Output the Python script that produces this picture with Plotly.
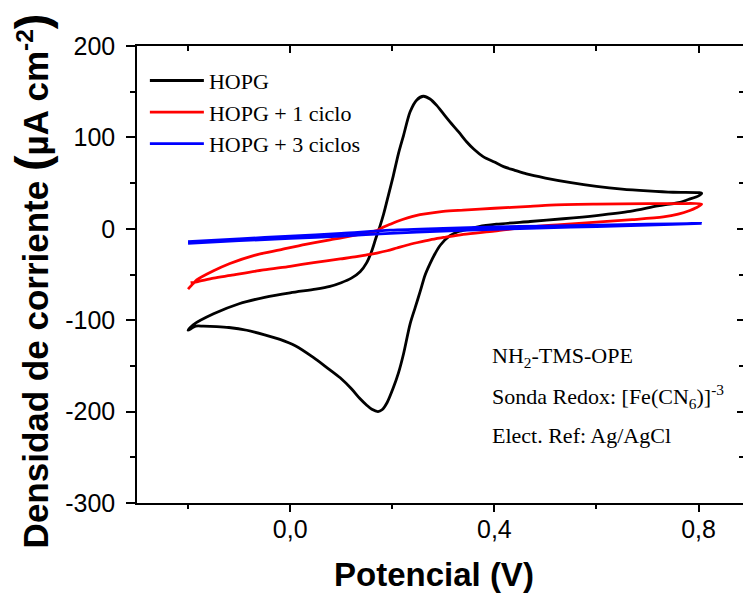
import plotly.graph_objects as go

# ---------------- data ----------------
hopg_E = [-0.200, -0.190, -0.150, -0.100, -0.050, 0.000, 0.050, 0.078, 0.100, 0.120,
          0.137, 0.150, 0.160, 0.168, 0.176, 0.183, 0.193, 0.202, 0.212, 0.222,
          0.235, 0.248, 0.261, 0.274, 0.287, 0.300, 0.313, 0.330, 0.346, 0.360,
          0.378, 0.400, 0.418, 0.440, 0.463, 0.500, 0.550, 0.600, 0.650, 0.700,
          0.750, 0.800, 0.806,
          0.800, 0.780, 0.764, 0.720, 0.666, 0.600, 0.535, 0.470, 0.404, 0.370,
          0.352, 0.330, 0.313, 0.294, 0.284, 0.274, 0.264, 0.255, 0.245, 0.235,
          0.222, 0.212, 0.202, 0.190, 0.180, 0.172, 0.160, 0.150, 0.137, 0.120,
          0.098, 0.070, 0.046, 0.010, -0.020, -0.050, -0.085, -0.120, -0.144, -0.170,
          -0.185, -0.200]
hopg_I = [-111, -105, -93, -82, -75, -70, -66, -63, -59, -54,
          -47, -37, -24, -10, 3, 16, 38, 58, 82, 102,
          128, 141, 145, 142, 135, 126, 117, 106, 95, 87,
          79, 73, 68, 64, 60, 55.5, 50.5, 46.5, 43.5, 41.5,
          40, 39.5, 39,
          36, 32, 29, 25, 19, 14.5, 11, 8, 5, 2.5,
          0, -3, -7.5, -18, -27, -38, -51, -68, -86, -104,
          -137, -158, -174, -190, -198, -200, -197.5, -193, -186, -175,
          -163, -151, -141, -128, -121, -116, -111, -108, -107, -106.5,
          -106.5, -111]

ciclo1_E = [-0.200, -0.190, -0.183, -0.150, -0.118, -0.070, -0.020, 0.030, 0.078, 0.100,
            0.144, 0.170, 0.183, 0.196, 0.209, 0.230, 0.248, 0.261, 0.300, 0.339,
            0.400, 0.470, 0.509, 0.600, 0.700, 0.760, 0.806,
            0.795, 0.783, 0.760, 0.731, 0.670, 0.600, 0.530, 0.470, 0.400,
            0.339, 0.300, 0.274, 0.250, 0.228, 0.209, 0.190, 0.170, 0.150, 0.130,
            0.098, 0.046, 0.000, -0.052, -0.117, -0.150, -0.183, -0.195]
ciclo1_I = [-66, -60, -56, -46, -38, -29, -23, -17, -12, -10,
            -5, -2, 2, 5, 8, 12, 14.6, 16, 19, 20.5,
            22.5, 24.5, 26, 27, 27.5, 27.5, 27,
            23, 20, 16, 13, 10, 7.3, 4.5, 2, -2.5,
            -6, -9.5, -12, -15, -18, -21, -24, -26.5, -28.5, -30.5,
            -33, -37, -41, -45, -51, -54, -58, -59]

ciclo3_E = [-0.200, -0.100, 0.000, 0.100, 0.196, 0.300, 0.400, 0.500, 0.600, 0.700, 0.806,
            0.700, 0.600, 0.500, 0.400, 0.300, 0.196, 0.100, 0.000, -0.100, -0.200]
ciclo3_I = [-14, -11, -8, -5, -1.5, 0.5, 2, 3, 4, 5, 6,
            4, 2.5, 1, -0.5, -2.5, -5, -8, -10.5, -13, -16]

series_names = ["HOPG", "HOPG + 1 ciclo", "HOPG + 3 ciclos"]
series_colors = ["#000000", "#ff0000", "#0000ff"]

y_tickvals = [-300, -200, -100, 0, 100, 200]
y_ticktext = ["-300", "-200", "-100", "0", "100", "200"]
y_minor = [-250, -150, -50, 50, 150]
x_tickvals = [0.0, 0.4, 0.8]
x_ticktext = ["0,0", "0,4", "0,8"]
x_minor = [-0.2, 0.2, 0.6]

x_title = "Potencial (V)"
y_title = ("Densidad de corriente <span style='font-size:47px'>(</span>"
           "µA cm<sup>-2</sup><span style='font-size:47px'>)</span>")

notes = ["NH<sub>2</sub>-TMS-OPE",
         "Sonda Redox: [Fe(CN<sub>6</sub>)]<sup>-3</sup>",
         "Elect. Ref: Ag/AgCl"]

# ---------------- figure ----------------
SANS = "Liberation Sans, Arial, sans-serif"
SERIF = "Liberation Serif, Times New Roman, serif"
XR = [-0.3, 0.887]
YR = [-300, 200]

fig = go.Figure()
for E, I, name, col in zip([hopg_E, ciclo1_E, ciclo3_E], [hopg_I, ciclo1_I, ciclo3_I],
                           series_names, series_colors):
    fig.add_trace(go.Scatter(x=E, y=I, mode="lines", name=name,
                             line=dict(color=col, width=2.8, shape="spline", smoothing=0.8)))

# invisible traces to create the extra axes (top / right mirrors, bottom tick marks)
fig.add_trace(go.Scatter(x=[None], y=[None], xaxis="x2", yaxis="y2",
                         showlegend=False, hoverinfo="skip"))
fig.add_trace(go.Scatter(x=[None], y=[None], xaxis="x3", yaxis="y",
                         showlegend=False, hoverinfo="skip"))

axis_common = dict(showgrid=False, zeroline=False, linecolor="black", linewidth=1.5,
                   tickcolor="black", tickwidth=1.5, automargin=False)

fig.update_layout(
    width=743, height=595,
    margin=dict(l=137, r=0, t=46, b=92),
    plot_bgcolor="white", paper_bgcolor="white",
    showlegend=True,
    legend=dict(x=0.013, y=0.970, xanchor="left", yanchor="top",
                bgcolor="rgba(0,0,0,0)", borderwidth=0,
                font=dict(family=SERIF, size=22, color="black"),
                itemwidth=54, tracegroupgap=0),
    xaxis=dict(range=XR, showline=True, ticks="outside", ticklen=3,
               tickmode="array", tickvals=x_tickvals, ticktext=x_ticktext,
               tickfont=dict(family=SANS, size=25, color="black"),
               ticklabelstandoff=0,
               **axis_common),
    xaxis3=dict(range=XR, overlaying="x", side="bottom", anchor="y", showline=False,
                ticks="outside", ticklen=8, showticklabels=False,
                tickmode="array", tickvals=x_tickvals,
                minor=dict(tickmode="array", tickvals=x_minor, ticks="outside",
                           ticklen=5, tickcolor="black", tickwidth=1.5),
                showgrid=False, zeroline=False, tickcolor="black", tickwidth=1.5,
                automargin=False),
    yaxis=dict(range=YR, showline=True, ticks="outside", ticklen=9,
               tickmode="array", tickvals=y_tickvals, ticktext=y_ticktext,
               tickfont=dict(family=SANS, size=25, color="black"),
               ticklabelstandoff=6,
               minor=dict(tickmode="array", tickvals=y_minor,
                          ticks="outside", ticklen=5, tickcolor="black", tickwidth=1.5),
               **axis_common),
    xaxis2=dict(range=XR, overlaying="x", side="top", anchor="y", showline=True,
                ticks="inside", ticklen=7, showticklabels=False,
                tickmode="array", tickvals=x_tickvals,
                minor=dict(tickmode="array", tickvals=x_minor, ticks="inside",
                           ticklen=5, tickcolor="black", tickwidth=1.5),
                **axis_common),
    yaxis2=dict(range=YR, overlaying="y", side="right", anchor="x", showline=False,
                ticks="inside", ticklen=6, showticklabels=False,
                tickmode="array", tickvals=y_tickvals,
                minor=dict(tickmode="array", tickvals=y_minor,
                           ticks="inside", ticklen=4, tickcolor="black", tickwidth=1.5),
                showgrid=False, zeroline=False, tickcolor="black", tickwidth=1.5,
                automargin=False),
)

# axis titles
fig.add_annotation(text=x_title, xref="paper", yref="paper", x=0.49, y=-0.1575,
                   xanchor="center", yanchor="middle", showarrow=False,
                   font=dict(family=SANS, size=33, color="black", weight="bold"))
fig.add_annotation(text=y_title, xref="paper", yref="paper", x=-0.175, y=0.487,
                   xanchor="center", yanchor="middle", showarrow=False, textangle=-90,
                   font=dict(family=SANS, size=35, color="black", weight="bold"))

note_y = [0.3195, 0.232, 0.148]
for txt, yy in zip(notes, note_y):
    fig.add_annotation(text=txt, xref="paper", yref="paper", x=0.5825, y=yy,
                       xanchor="left", yanchor="middle", showarrow=False,
                       font=dict(family=SERIF, size=22, color="black"))

fig.write_html("out.html", config={"displayModeBar": False},
               post_script="document.body.style.margin='0';document.body.style.overflow='hidden';")
